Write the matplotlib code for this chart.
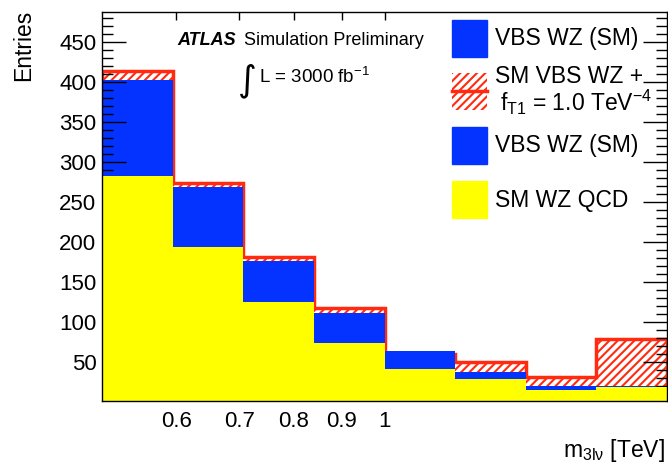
import matplotlib
matplotlib.use('Agg')
import matplotlib.pyplot as plt
import numpy as np
from matplotlib.patches import Rectangle
from matplotlib.lines import Line2D
from matplotlib.ticker import MultipleLocator, FixedLocator, NullLocator, FixedFormatter

plt.rcParams['font.family'] = ['Liberation Sans', 'DejaVu Sans']
plt.rcParams['mathtext.fontset'] = 'custom'
plt.rcParams['mathtext.rm'] = 'Liberation Sans'
plt.rcParams['mathtext.it'] = 'Liberation Sans:italic'
plt.rcParams['hatch.linewidth'] = 1.5
plt.rcParams['axes.unicode_minus'] = False

# bin edges of m_3lnu in TeV (log-spaced)
edges = [0.5, 0.5946, 0.7071, 0.8409, 1.0, 1.1892, 1.4142, 1.6818, 2.0]
# SM WZ QCD
qcd = [282, 193, 125, 74, 40.5, 28, 14.6, 19]
# VBS WZ (SM)
vbs_sm = [120, 75, 51, 36.5, 23.5, 9.5, 5, 0.4]
# SM VBS WZ + f_T1 = 1.0 TeV^-4 (total)
bsm_total = [413, 273, 180.5, 116.7, 60, 50, 30.5, 79]

xticks = [0.6, 0.7, 0.8, 0.9, 1.0]
xticklabels = ['0.6', '0.7', '0.8', '0.9', '1']

BLUE = '#0432FF'
YELLOW = '#FFFF00'
RED = '#FF2A10'

W, H = 668, 467
def fx(px):
    return px / W
def fy(py):
    return 1 - py / H

fig = plt.figure(figsize=(6.68, 4.67), dpi=100)
ax = fig.add_axes([fx(102), fy(401), fx(667) - fx(102), (401 - 12) / H])

qcd = np.array(qcd)
vbs_sm = np.array(vbs_sm)

# BSM hatched histogram behind the stack
ax.stairs(bsm_total, edges, fill=True, facecolor='white', edgecolor=RED,
          hatch='////', linewidth=0, zorder=1)
ax.stairs(bsm_total, edges, color=RED, linewidth=2.5, zorder=1.5)
# stack
ax.stairs(qcd + vbs_sm, edges, fill=True, color=BLUE, zorder=2)
ax.stairs(qcd, edges, fill=True, color=YELLOW, zorder=3)

ax.set_xscale('log')
ax.set_xlim(0.5, 2.0)
ax.set_ylim(1, 487)

ax.xaxis.set_major_locator(FixedLocator(xticks))
ax.xaxis.set_major_formatter(FixedFormatter(xticklabels))
ax.xaxis.set_minor_locator(NullLocator())
ax.yaxis.set_major_locator(MultipleLocator(50))
ax.yaxis.set_minor_locator(MultipleLocator(10))
ax.tick_params(axis='both', which='both', direction='in', top=True, right=True,
               labelsize=16, width=1)
ax.tick_params(axis='y', which='major', length=17, pad=4)
ax.tick_params(axis='y', which='minor', length=8)
ax.tick_params(axis='x', which='major', length=6, pad=7)
for s in ax.spines.values():
    s.set_linewidth(1)
    s.set_zorder(5)
ax.set_axisbelow(False)

fig.text(fx(24), fy(10), 'Entries', rotation=90, ha='center', va='top', fontsize=16.5)
fig.text(fx(665), fy(457), r'm$_{\mathregular{3l\nu}}$ [TeV]', ha='right', va='baseline',
         fontsize=16.5)

# ATLAS label
fig.text(fx(177), fy(45), 'ATLAS', fontsize=13, weight='bold', style='italic', va='baseline')
fig.text(fx(244), fy(45), 'Simulation Preliminary', fontsize=13, va='baseline')
fig.text(fx(238), fy(98), '\u222b', fontsize=26, family='DejaVu Sans', va='bottom')
fig.text(fx(259), fy(83), r'L = 3000 fb$^{\mathregular{-1}}$', fontsize=13.5, va='baseline')

# legend
fig.add_artist(Rectangle((fx(452), fy(57)), fx(487) - fx(452), (57 - 20) / H,
                         transform=fig.transFigure, color=BLUE))
fig.add_artist(Rectangle((fx(452), fy(110)), fx(487) - fx(452), (110 - 73) / H,
                         transform=fig.transFigure, facecolor='white', edgecolor=RED,
                         hatch='////', linewidth=0))
fig.add_artist(Line2D([fx(452), fx(487)], [fy(91), fy(91)], transform=fig.transFigure,
                      color=RED, linewidth=2.5))
fig.add_artist(Rectangle((fx(452), fy(164)), fx(487) - fx(452), (164 - 127) / H,
                         transform=fig.transFigure, color=BLUE))
fig.add_artist(Rectangle((fx(452), fy(218)), fx(487) - fx(452), (218 - 181) / H,
                         transform=fig.transFigure, color=YELLOW))

fig.text(fx(495), fy(45), 'VBS WZ (SM)', fontsize=16.5, va='baseline')
fig.text(fx(495), fy(83), 'SM VBS WZ +', fontsize=16.5, va='baseline')
fig.text(fx(500), fy(111), r'f$_{\mathregular{T1}}$ = 1.0 TeV$^{\mathregular{-4}}$',
         fontsize=16.5, va='baseline')
fig.text(fx(495), fy(152), 'VBS WZ (SM)', fontsize=16.5, va='baseline')
fig.text(fx(495), fy(207), 'SM WZ QCD', fontsize=16.5, va='baseline')

fig.savefig('out.png', dpi=100)
